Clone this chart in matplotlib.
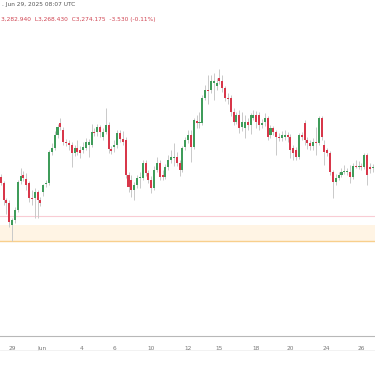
import numpy as np
import matplotlib
matplotlib.use("Agg")
import matplotlib.pyplot as plt

# 4h candles, XAU-style prices
opens = [3327.6, 3320.4, 3300.0, 3296.4, 3270.0, 3276.0, 3288.0, 3322.8, 3330.0, 3325.2,
         3320.4, 3302.4, 3302.4, 3309.6, 3300.0, 3309.6, 3319.2, 3320.4, 3357.6, 3362.4,
         3378.0, 3392.4, 3384.0, 3369.6, 3368.4, 3366.0, 3356.4, 3362.4, 3360.0, 3360.0,
         3362.4, 3366.0, 3366.0, 3381.6, 3381.6, 3387.6, 3375.6, 3381.6, 3390.0, 3361.2,
         3363.6, 3366.0, 3380.4, 3373.2, 3372.0, 3330.0, 3324.0, 3312.0, 3318.0, 3326.4,
         3326.4, 3344.4, 3332.4, 3324.0, 3314.4, 3336.0, 3344.4, 3330.0, 3327.6, 3339.6,
         3348.0, 3350.4, 3351.6, 3344.4, 3336.0, 3363.6, 3372.0, 3378.0, 3363.6, 3394.8,
         3392.4, 3392.4, 3422.4, 3432.0, 3432.0, 3440.4, 3436.8, 3446.4, 3442.8, 3434.4,
         3422.4, 3422.4, 3405.6, 3393.6, 3402.0, 3387.6, 3386.4, 3393.6, 3390.0, 3398.4,
         3402.0, 3402.0, 3390.0, 3393.6, 3398.4, 3378.0, 3386.4, 3381.6, 3375.6, 3374.4,
         3375.6, 3378.0, 3375.6, 3362.4, 3360.0, 3351.6, 3378.0, 3392.4, 3372.0, 3368.4,
         3364.8, 3369.6, 3368.4, 3398.4, 3366.0, 3360.0, 3356.4, 3333.6, 3321.6, 3326.4,
         3330.0, 3333.6, 3333.6, 3333.6, 3327.6, 3340.8, 3340.2, 3340.8, 3339.6, 3354.0,
         3339.6, 3338.4]
highs = [3331.2, 3322.8, 3302.4, 3300.0, 3278.4, 3291.6, 3324.0, 3338.4, 3334.8, 3332.4,
         3322.8, 3312.0, 3314.4, 3312.0, 3303.6, 3319.2, 3324.0, 3360.0, 3368.4, 3382.8,
         3391.2, 3398.4, 3387.6, 3373.2, 3372.0, 3369.6, 3366.0, 3372.0, 3364.8, 3369.6,
         3374.4, 3373.2, 3391.2, 3386.4, 3391.2, 3390.0, 3386.4, 3410.4, 3393.6, 3364.8,
         3372.0, 3384.0, 3384.0, 3382.8, 3375.6, 3333.6, 3330.0, 3321.6, 3330.0, 3333.6,
         3348.0, 3348.0, 3336.0, 3328.8, 3340.8, 3351.6, 3348.0, 3336.0, 3343.2, 3354.0,
         3360.0, 3368.4, 3357.6, 3348.0, 3364.8, 3375.6, 3384.0, 3384.0, 3398.4, 3402.0,
         3405.6, 3426.0, 3438.0, 3450.0, 3450.0, 3452.4, 3446.4, 3457.2, 3450.0, 3436.8,
         3428.4, 3426.0, 3410.4, 3405.6, 3408.0, 3405.6, 3402.0, 3398.4, 3404.4, 3408.0,
         3406.8, 3405.6, 3397.2, 3404.4, 3400.8, 3390.0, 3388.8, 3384.0, 3380.4, 3382.8,
         3384.0, 3381.6, 3379.2, 3366.0, 3363.6, 3380.4, 3381.6, 3396.0, 3375.6, 3372.0,
         3374.4, 3387.6, 3400.8, 3400.8, 3372.0, 3362.4, 3358.8, 3336.0, 3331.2, 3333.6,
         3338.4, 3342.0, 3338.4, 3342.0, 3344.4, 3348.0, 3346.8, 3344.4, 3356.4, 3356.4,
         3344.4, 3343.2]
lows = [3318.0, 3294.0, 3283.2, 3267.6, 3250.8, 3272.4, 3285.6, 3319.2, 3322.8, 3312.0,
        3297.6, 3294.0, 3278.4, 3278.4, 3292.8, 3304.8, 3315.6, 3318.0, 3354.0, 3360.0,
        3374.4, 3384.0, 3366.0, 3364.8, 3360.0, 3339.6, 3352.8, 3354.0, 3350.4, 3356.4,
        3360.0, 3351.6, 3363.6, 3376.8, 3376.8, 3375.6, 3372.0, 3379.2, 3356.4, 3355.2,
        3357.6, 3362.4, 3369.6, 3366.0, 3326.4, 3309.6, 3303.6, 3300.0, 3314.4, 3314.4,
        3324.0, 3328.8, 3320.4, 3308.4, 3312.0, 3333.6, 3324.0, 3324.0, 3325.2, 3336.0,
        3344.4, 3340.8, 3340.8, 3328.8, 3333.6, 3360.0, 3368.4, 3345.6, 3361.2, 3386.4,
        3386.4, 3390.0, 3420.0, 3415.2, 3428.4, 3420.0, 3432.0, 3439.2, 3429.6, 3418.8,
        3415.2, 3400.8, 3390.0, 3391.2, 3380.4, 3382.8, 3374.4, 3384.0, 3379.2, 3396.0,
        3386.4, 3384.0, 3386.4, 3388.8, 3372.0, 3374.4, 3378.0, 3354.0, 3370.8, 3370.8,
        3372.0, 3369.6, 3350.4, 3348.0, 3348.0, 3349.2, 3372.0, 3366.0, 3361.2, 3360.0,
        3360.0, 3354.0, 3366.0, 3372.0, 3342.0, 3352.8, 3330.0, 3302.4, 3318.0, 3324.0,
        3327.6, 3331.2, 3330.0, 3320.4, 3325.2, 3338.4, 3337.2, 3336.0, 3337.2, 3318.0,
        3332.4, 3333.6]
closes = [3320.4, 3300.0, 3296.4, 3273.6, 3276.0, 3288.0, 3321.6, 3328.8, 3326.4, 3318.0,
          3302.4, 3301.2, 3309.6, 3300.0, 3296.4, 3318.0, 3320.4, 3357.6, 3362.4, 3378.0,
          3387.6, 3387.6, 3369.6, 3368.4, 3366.0, 3356.4, 3362.4, 3357.6, 3356.4, 3363.6,
          3369.6, 3369.6, 3381.6, 3380.4, 3387.6, 3381.6, 3381.6, 3390.0, 3361.2, 3358.8,
          3366.0, 3380.4, 3373.2, 3369.6, 3330.0, 3315.6, 3312.0, 3318.0, 3326.4, 3327.6,
          3344.4, 3332.4, 3324.0, 3314.4, 3336.0, 3344.4, 3327.6, 3327.6, 3339.6, 3348.0,
          3351.6, 3351.6, 3344.4, 3336.0, 3362.4, 3372.0, 3378.0, 3363.6, 3396.0, 3392.4,
          3393.6, 3422.4, 3432.0, 3430.8, 3442.8, 3442.8, 3440.4, 3442.8, 3434.4, 3422.4,
          3421.2, 3405.6, 3393.6, 3402.0, 3386.4, 3393.6, 3393.6, 3390.0, 3402.0, 3402.0,
          3393.6, 3390.0, 3392.4, 3398.4, 3375.6, 3386.4, 3381.6, 3375.6, 3374.4, 3378.0,
          3378.0, 3375.6, 3360.0, 3356.4, 3351.6, 3378.0, 3375.6, 3372.0, 3368.4, 3364.8,
          3369.6, 3368.4, 3398.4, 3375.6, 3357.6, 3356.4, 3333.6, 3321.6, 3326.4, 3330.0,
          3333.6, 3334.0, 3334.2, 3327.6, 3340.8, 3340.2, 3340.8, 3339.6, 3354.0, 3330.0,
          3337.2, 3339.6]

tick_pos = [4, 14.5, 28.5, 40, 53, 66, 77, 90, 102, 114.5, 127]
tick_labels = ["29", "Jun", "4", "6", "10", "12", "15", "18", "20", "24", "26"]

level_line = 3280.8          # pink line
zone_top, zone_bottom = 3270.0, 3250.8   # orange zone

up_color = "#3f9c5a"
down_color = "#d8374a"
wick_color = "#c9c9c9"


def draw_candles(ax, o, h, l, c):
    o, h, l, c = map(np.asarray, (o, h, l, c))
    x = np.arange(len(o))
    up = c >= o
    colors = np.where(up, up_color, down_color)
    ax.vlines(x, l, h, color=wick_color, linewidth=0.7, zorder=2)
    bottoms = np.minimum(o, c)
    heights = np.maximum(np.abs(c - o), 0.9)
    ax.bar(x, heights, bottom=bottoms, width=0.72, color=colors, linewidth=0, zorder=3)


fig = plt.figure(figsize=(3.75, 3.66), dpi=100)
ax = fig.add_axes([0, 30 / 366, 1, 336 / 366])

ax.axhspan(zone_bottom, zone_top, color="#fff4e4", zorder=0, linewidth=0)
ax.axhline(zone_bottom, color="#f8cf8c", linewidth=1.0, zorder=1)
ax.axhline(level_line, color="#f9ccd4", linewidth=0.8, zorder=1)

draw_candles(ax, opens, highs, lows, closes)

ax.set_xlim(-0.25, 131.8)
ax.set_ylim(3136.8, 3540)

for s in ["top", "left", "right"]:
    ax.spines[s].set_visible(False)
ax.spines["bottom"].set_color("#b8b8b8")
ax.spines["bottom"].set_linewidth(0.8)
ax.set_yticks([])
ax.set_xticks(tick_pos)
ax.set_xticklabels(tick_labels, fontsize=4.2, color="#777777")
ax.tick_params(axis="x", length=0, pad=7)

# faint separator under the time scale
fig.add_artist(plt.Line2D([0, 1], [1 - 350 / 366] * 2, color="#f0f0f0", linewidth=0.6))

fig.text(0.004, 1 - 4.5 / 366, ". Jun 29, 2025 08:07 UTC", fontsize=4.2,
         color="#555555", va="center", ha="left")
fig.text(0.002, 1 - 19 / 366, "3,282.940  L3,268.430  C3,274.175  -3.530 (-0.11%)",
         fontsize=4.2, color="#d04452", va="center", ha="left")

fig.savefig("out.png", dpi=100)
